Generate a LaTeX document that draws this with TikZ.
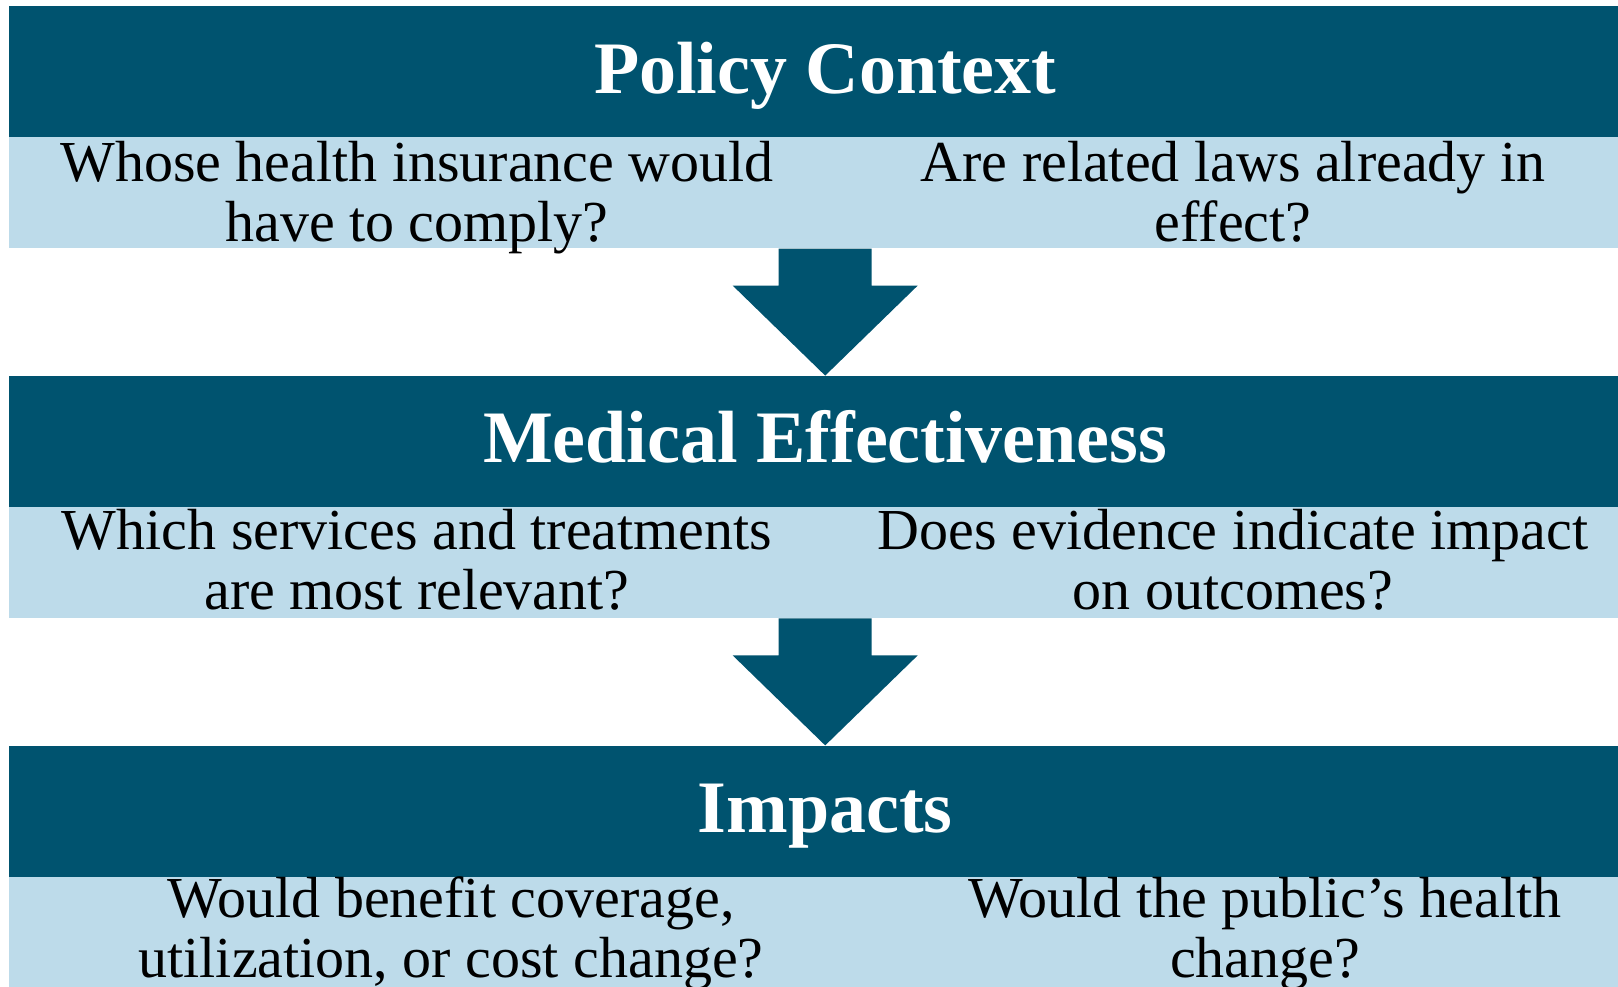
\documentclass[tikz,border=0pt]{standalone}
\usepackage{fontspec}
\setmainfont{Liberation Serif}
\usetikzlibrary{positioning,calc}

\definecolor{bandblue}{RGB}{0,83,111}
\definecolor{rowblue}{RGB}{189,219,234}

\tikzset{
  band/.style={fill=bandblue, text=white, inner sep=0pt,
    minimum width=1632pt, minimum height=131pt,
    text height=43pt, text depth=0pt,
    font=\fontsize{74}{80}\selectfont\bfseries},
  row/.style={fill=rowblue, inner sep=0pt,
    minimum width=1632pt, minimum height=111pt},
  % base anchor sits on the last line
  question/.style={anchor=base, align=center, inner sep=0pt,
    font=\fontsize{58}{60}\selectfont},
  downarrow/.style={fill=bandblue}
}

\begin{document}
\begin{tikzpicture}[x=1pt, y=-1pt]
% one unit = one pixel, y runs downwards
\useasboundingbox (0,0) rectangle (1618,986);
\clip (0,0) rectangle (1618,986);

% the three stages: title band with a row of questions below
\node[band] (policy) at (825.2, 71.5) {Policy Context};
\node[row, below=0pt of policy] (policyq) {};

\node[band, below=127pt of policyq] (medical) {Medical Effectiveness};
\node[row, below=0pt of medical] (medicalq) {};

\node[band, below=127pt of medicalq] (impacts) {Impacts};
\node[row, below=0pt of impacts] (impactsq) {};

% block arrows between the stages
\foreach \from/\to in {policyq/medical, medicalq/impacts}
  \fill[downarrow] ($(\from.south)+(-46.5,0)$) -- ++(0,37) -- ++(-46,0)
    -- (\to.north) -- ++(92.5,-90) -- ++(-46,0)
    -- ($(\from.south)+(46.5,0)$) -- cycle;

% questions
\node[question] (policy left) at (417, 241.5)
  {Whose health insurance would\\have to comply?};
\node[question] (policy right) at (1233, 241.5)
  {Are related laws already in\\effect?};

\node[question] (medical left) at (417, 609.5)
  {Which services and treatments\\are most relevant?};
\node[question] (medical right) at (1233, 609.5)
  {Does evidence indicate impact\\on outcomes?};

\node[question] (impacts left) at (451, 977.5)
  {Would benefit coverage,\\utilization, or cost change?};
\node[question] (impacts right) at (1265, 977.5)
  {Would the public’s health\\change?};

\end{tikzpicture}
\end{document}
